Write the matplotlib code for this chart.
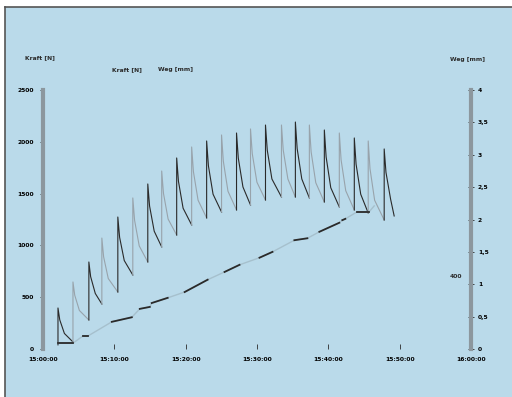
import numpy as np
import matplotlib
matplotlib.use("Agg")
import matplotlib.pyplot as plt
from matplotlib.patches import Rectangle
from matplotlib.lines import Line2D

# Kraft: je Zyklus Anstieg auf Spitze, dann Abfall auf Minimum (Zeit in min)
peak_t = [2.10, 4.20, 6.43, 8.25, 10.49, 12.59, 14.69, 16.64, 18.74, 20.84, 22.94, 25.03,
          27.13, 29.09, 31.19, 33.43, 35.38, 37.34, 39.44, 41.54, 43.64, 45.59, 47.83]
end_t = 49.23
peak_F = [396, 647, 840, 1071, 1274, 1458, 1593, 1718, 1844, 1950, 2008, 2066,
          2085, 2124, 2162, 2162, 2191, 2162, 2114, 2085, 2037, 2008, 1931]
# zwei Stuetzpunkte im Abfall jedes Zyklus
mid1_t = [2.35, 4.45, 6.68, 8.50, 10.74, 12.84, 14.94, 16.89, 18.99, 21.09, 23.19, 25.28,
          27.38, 29.34, 31.44, 33.68, 35.63, 37.59, 39.69, 41.79, 43.89, 45.84, 48.08]
mid1_F = [281, 519, 698, 889, 1078, 1242, 1380, 1502, 1618, 1710, 1768, 1813,
          1842, 1884, 1919, 1919, 1934, 1902, 1854, 1825, 1784, 1741, 1705]
mid2_t = [3.00, 5.10, 7.33, 9.15, 11.39, 13.49, 15.59, 17.54, 19.64, 21.74, 23.84, 25.93,
          28.03, 29.99, 32.09, 34.33, 36.28, 38.24, 40.34, 42.44, 44.54, 46.49, 48.73]
mid2_F = [150, 372, 536, 680, 854, 995, 1137, 1254, 1359, 1436, 1494, 1523,
          1564, 1610, 1641, 1641, 1641, 1605, 1557, 1528, 1494, 1436, 1446]
trough_F = [68, 280, 434, 550, 714, 840, 985, 1100, 1197, 1265, 1322, 1342,
            1390, 1438, 1467, 1467, 1458, 1419, 1371, 1342, 1313, 1245, 1284]
start_F = 40

# Weg: Stuetzpunkte; die geraden Paare (0-1, 2-3, ...) sind die schwarzen Striche
weg_t = [2.10, 4.20, 5.59, 6.29, 9.65, 12.45, 13.57, 14.97, 15.24, 17.48, 19.86, 23.08,
         25.45, 27.55, 30.35, 32.17, 35.24, 37.06, 38.74, 41.54, 41.96, 42.38, 44.06, 45.73, 46.43]
weg_mm = [0.09, 0.09, 0.20, 0.20, 0.42, 0.49, 0.62, 0.65, 0.71, 0.79, 0.88, 1.07,
          1.19, 1.30, 1.41, 1.50, 1.68, 1.71, 1.81, 1.95, 1.99, 2.01, 2.12, 2.12, 2.21]

x_ticks = [0, 10, 20, 30, 40, 50, 60]
x_labels = ["15:00:00", "15:10:00", "15:20:00", "15:30:00", "15:40:00", "15:50:00", "16:00:00"]
f_ticks = [0, 500, 1000, 1500, 2000, 2500]
w_ticks = [0, 0.5, 1, 1.5, 2, 2.5, 3, 3.5, 4]
w_labels = ["0", "0,5", "1", "1,5", "2", "2,5", "3", "3,5", "4"]

BG = "#badaea"
DARK = "#2a2a2a"
GREY = "#98a3ab"
LIGHT = "#a6c0cd"
AXC = "#8c979e"
FS = 4.3

fig = plt.figure(figsize=(5.12, 3.97), dpi=100)
fig.patch.set_facecolor("white")
fig.patches.append(Rectangle((5 / 512, 0), 1, 1 - 7 / 397, transform=fig.transFigure,
                             facecolor=BG, edgecolor="none", zorder=-10))
fig.add_artist(Line2D([5 / 512, 1], [1 - 7 / 397] * 2, color="#555555", lw=1.2))
fig.add_artist(Line2D([5 / 512] * 2, [0, 1 - 7 / 397], color="#555555", lw=1.2))

ax = fig.add_axes([43 / 512, 48 / 397, 428 / 512, 259 / 397])
ax.patch.set_alpha(0)

# Kraftverlauf, Zyklen abwechselnd schwarz / grau
prev = start_F
for i in range(len(peak_t)):
    t_end = peak_t[i + 1] if i + 1 < len(peak_t) else end_t
    xs = [peak_t[i], peak_t[i], mid1_t[i], mid2_t[i], t_end]
    ys = [prev, peak_F[i], mid1_F[i], mid2_F[i], trough_F[i]]
    ax.plot(xs, ys, color=DARK if i % 2 == 0 else GREY, lw=0.8, solid_joinstyle="round")
    prev = trough_F[i]

ax.set_xlim(0, 60)
ax.set_ylim(0, 2500)
ax.set_xticks(x_ticks)
ax.set_xticklabels(x_labels)
ax.set_yticks(f_ticks)
ax.tick_params(axis="x", direction="in", length=3.5, width=0.6, color=DARK,
               labelsize=FS, pad=6)
ax.tick_params(axis="y", direction="out", length=2.5, width=0.6, color=DARK,
               labelsize=FS, pad=4)
for lab in ax.get_xticklabels() + ax.get_yticklabels():
    lab.set_fontweight("bold")
for s in ("top", "bottom", "right"):
    ax.spines[s].set_visible(False)
ax.spines["left"].set_color(AXC)
ax.spines["left"].set_linewidth(3)

ax2 = ax.twinx()
ax2.set_ylim(0, 4)
ax2.plot(weg_t, weg_mm, color=LIGHT, lw=1.0)
for k in range(0, len(weg_t) - 1, 2):
    ax2.plot(weg_t[k:k + 2], weg_mm[k:k + 2], color=DARK, lw=1.3)
ax2.set_yticks(w_ticks)
ax2.set_yticklabels(w_labels)
ax2.tick_params(axis="y", direction="inout", length=4, width=0.6, color=DARK,
                labelsize=FS, pad=3)
for lab in ax2.get_yticklabels():
    lab.set_fontweight("bold")
for s in ("top", "bottom", "left"):
    ax2.spines[s].set_visible(False)
ax2.spines["right"].set_color(AXC)
ax2.spines["right"].set_linewidth(3)

txt = dict(fontsize=FS, fontweight="bold", color=DARK, transform=fig.transFigure)
fig.text(25 / 512, 1 - 58 / 397, "Kraft [N]", ha="left", va="center", **txt)
fig.text(112 / 512, 1 - 70 / 397, "Kraft [N]", ha="left", va="center", **txt)
fig.text(158 / 512, 1 - 70 / 397, "Weg [mm]", ha="left", va="center", **txt)
fig.text(450 / 512, 1 - 60 / 397, "Weg [mm]", ha="left", va="center", **txt)
fig.text(450 / 512, 1 - 276 / 397, "400", ha="left", va="center", **txt)

fig.savefig("out.png", dpi=100, facecolor=fig.get_facecolor())
